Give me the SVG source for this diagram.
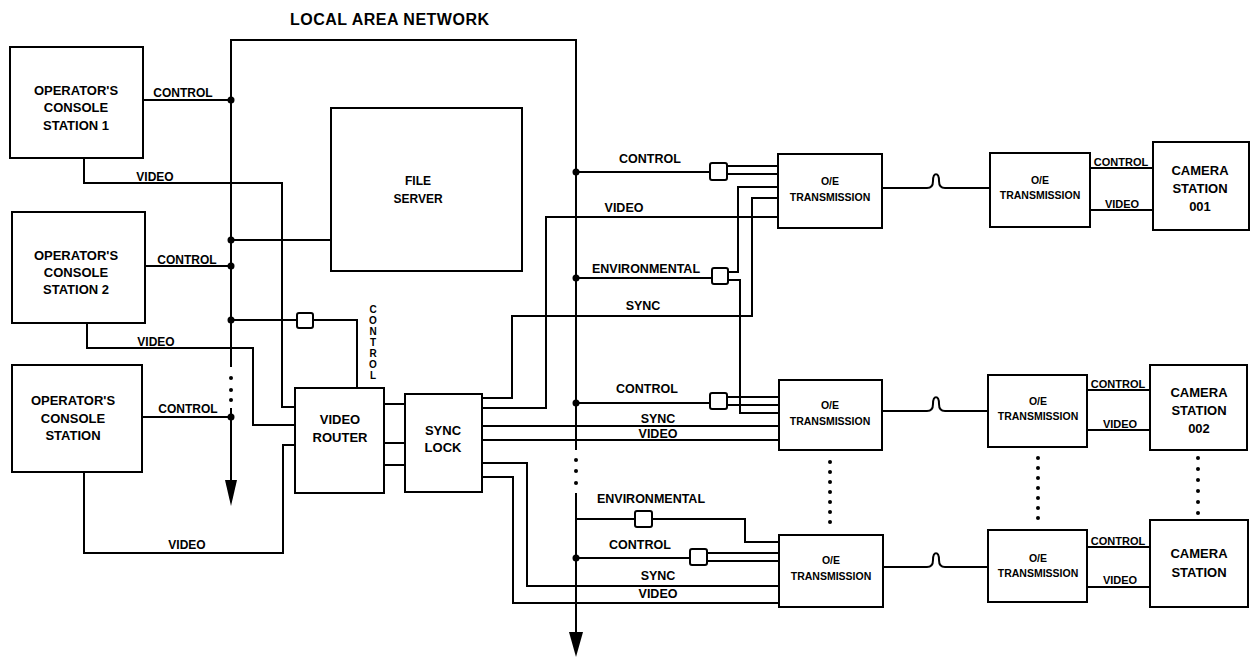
<svg xmlns="http://www.w3.org/2000/svg" width="1252" height="657" viewBox="0 0 1252 657">
<style>
.w{fill:none;stroke:#000;stroke-width:2;stroke-linejoin:miter}
.b{fill:#fff;stroke:#000;stroke-width:2}
.s{fill:#fff;stroke:#000;stroke-width:2}
.d{fill:#000}
text{font-family:"Liberation Sans",Arial,sans-serif;font-weight:bold;fill:#000}
.n{font-size:13px;text-anchor:middle}
.n12{font-size:12px;text-anchor:middle}
.oe{font-size:10.5px;text-anchor:middle}
.l{font-size:12px;text-anchor:middle}
.r{font-size:12.5px;text-anchor:middle}
.c{font-size:11px;text-anchor:middle}
.v{font-size:10px;text-anchor:middle}
.ttl{font-size:16px;letter-spacing:0.5px}
</style>
<rect width="1252" height="657" fill="#fff"/>
<text class="ttl" x="290" y="25">LOCAL AREA NETWORK</text>

<g id="connectors">
  <!-- LAN buses -->
  <path class="w" d="M231,367 V40 H576 V450"/>
  <path class="w" d="M231,408 V482"/>
  <polygon points="225,480 237,480 231,506"/>
  <path class="w" d="M576,493 V634"/>
  <polygon points="569,632 583,632 576,657"/>
  <circle class="d" cx="231" cy="378" r="2"/>
  <circle class="d" cx="231" cy="390" r="2"/>
  <circle class="d" cx="231" cy="400" r="2"/>
  <circle class="d" cx="576" cy="460" r="2"/>
  <circle class="d" cx="576" cy="471" r="2"/>
  <circle class="d" cx="576" cy="483" r="2"/>
  <!-- left side -->
  <path class="w" d="M143,100 H231"/>
  <path class="w" d="M84,158 V183 H282 V407 H295"/>
  <path class="w" d="M145,266 H231"/>
  <path class="w" d="M231,240 H331"/>
  <path class="w" d="M87,323 V348 H253 V425 H295"/>
  <path class="w" d="M231,320 H297"/>
  <rect class="s" x="297" y="313" width="16" height="15" rx="2"/>
  <path class="w" d="M313,320 H357 V388"/>
  <path class="w" d="M142,417 H231"/>
  <path class="w" d="M84,472 V553 H283 V445 H295"/>
  <circle class="d" cx="231" cy="100" r="3.5"/>
  <circle class="d" cx="231" cy="240" r="3.5"/>
  <circle class="d" cx="231" cy="266" r="3.5"/>
  <circle class="d" cx="231" cy="320" r="3.5"/>
  <circle class="d" cx="231" cy="417" r="3.5"/>
  <!-- router to sync lock -->
  <path class="w" d="M384,404 H405 M384,443 H405 M384,465 H405"/>
  <!-- sync lock outputs -->
  <path class="w" d="M482,398 H512 V316 H752 V198 H778"/>
  <path class="w" d="M482,408 H546 V217 H778"/>
  <path class="w" d="M482,426 H779"/>
  <path class="w" d="M482,440 H779"/>
  <path class="w" d="M482,463 H527 V586 H779"/>
  <path class="w" d="M482,477 H513 V603 H779"/>
  <!-- right bus taps -->
  <path class="w" d="M576,172 H710"/>
  <rect class="s" x="710" y="163" width="17" height="17" rx="2"/>
  <path class="w" d="M727,166 H778 M727,174 H778"/>
  <path class="w" d="M576,278 H712"/>
  <rect class="s" x="712" y="268" width="16" height="16" rx="2"/>
  <path class="w" d="M728,272 H738 V187 H778"/>
  <path class="w" d="M728,280 H740 V413 H779"/>
  <path class="w" d="M576,403 H710"/>
  <rect class="s" x="710" y="393" width="17" height="16" rx="2"/>
  <path class="w" d="M727,397 H779 M727,405 H779"/>
  <path class="w" d="M576,519 H635"/>
  <rect class="s" x="635" y="511" width="17" height="16" rx="2"/>
  <path class="w" d="M652,519 H745 V542 H779"/>
  <path class="w" d="M576,558 H690"/>
  <rect class="s" x="690" y="549" width="17" height="16" rx="2"/>
  <path class="w" d="M707,553 H779 M707,561 H779"/>
  <circle class="d" cx="576" cy="172" r="3.5"/>
  <circle class="d" cx="576" cy="278" r="3.5"/>
  <circle class="d" cx="576" cy="403" r="3.5"/>
  <circle class="d" cx="576" cy="558" r="3.5"/>
  <!-- fibre links -->
  <path class="w" d="M882,188 H927 C931,188 933,186 933,181 C933,172 939,172 939,181 C939,186 941,188 945,188 H990"/>
  <path class="w" d="M882,411 H927 C931,411 933,409 933,404 C933,395 939,395 939,404 C939,409 941,411 945,411 H988"/>
  <path class="w" d="M883,567 H927 C931,567 933,565 933,560 C933,551 939,551 939,560 C939,565 941,567 945,567 H988"/>
  <!-- camera links -->
  <path class="w" d="M1090,168 H1153 M1090,210 H1153"/>
  <path class="w" d="M1087,390 H1150 M1087,430 H1150"/>
  <path class="w" d="M1087,547 H1150 M1087,587 H1150"/>
  <!-- ellipsis dots -->
  <g class="d">
    <circle cx="830" cy="462" r="2"/><circle cx="830" cy="472" r="2"/><circle cx="830" cy="482" r="2"/><circle cx="830" cy="492" r="2"/><circle cx="830" cy="502" r="2"/><circle cx="830" cy="512" r="2"/><circle cx="830" cy="522" r="2"/>
    <circle cx="1038" cy="458" r="2"/><circle cx="1038" cy="468" r="2"/><circle cx="1038" cy="478" r="2"/><circle cx="1038" cy="488" r="2"/><circle cx="1038" cy="498" r="2"/><circle cx="1038" cy="508" r="2"/><circle cx="1038" cy="518" r="2"/>
    <circle cx="1198" cy="458" r="2"/><circle cx="1198" cy="469" r="2"/><circle cx="1198" cy="480" r="2"/><circle cx="1198" cy="491" r="2"/><circle cx="1198" cy="502" r="2"/><circle cx="1198" cy="513" r="2"/>
  </g>
  <!-- connector labels -->
  <text class="l" x="183" y="97">CONTROL</text>
  <text class="l" x="155" y="181">VIDEO</text>
  <text class="l" x="187" y="264">CONTROL</text>
  <text class="l" x="156" y="346">VIDEO</text>
  <text class="l" x="188" y="413">CONTROL</text>
  <text class="l" x="187" y="549">VIDEO</text>
  <text class="v"><tspan x="373" y="313">C</tspan><tspan x="373" y="324">O</tspan><tspan x="373" y="335">N</tspan><tspan x="373" y="346">T</tspan><tspan x="373" y="357">R</tspan><tspan x="373" y="368">O</tspan><tspan x="373" y="379">L</tspan></text>
  <text class="r" x="650" y="163">CONTROL</text>
  <text class="r" x="624" y="212">VIDEO</text>
  <text class="r" x="646" y="273">ENVIRONMENTAL</text>
  <text class="r" x="643" y="310">SYNC</text>
  <text class="r" x="647" y="393">CONTROL</text>
  <text class="r" x="658" y="423">SYNC</text>
  <text class="r" x="658" y="438">VIDEO</text>
  <text class="r" x="651" y="503">ENVIRONMENTAL</text>
  <text class="r" x="640" y="549">CONTROL</text>
  <text class="r" x="658" y="580">SYNC</text>
  <text class="r" x="658" y="598">VIDEO</text>
  <text class="c" x="1121" y="166">CONTROL</text>
  <text class="c" x="1122" y="208">VIDEO</text>
  <text class="c" x="1118" y="388">CONTROL</text>
  <text class="c" x="1120" y="428">VIDEO</text>
  <text class="c" x="1118" y="545">CONTROL</text>
  <text class="c" x="1120" y="584">VIDEO</text>
</g>

<g id="console1"><rect class="b" x="10" y="47" width="133" height="111"/>
  <text class="n" x="76" y="95">OPERATOR'S</text><text class="n" x="76" y="112">CONSOLE</text><text class="n" x="76" y="130">STATION 1</text></g>
<g id="console2"><rect class="b" x="12" y="212" width="133" height="111"/>
  <text class="n" x="76" y="260">OPERATOR'S</text><text class="n" x="76" y="277">CONSOLE</text><text class="n" x="76" y="294">STATION 2</text></g>
<g id="console3"><rect class="b" x="12" y="365" width="130" height="107"/>
  <text class="n" x="73" y="405">OPERATOR'S</text><text class="n" x="73" y="423">CONSOLE</text><text class="n" x="73" y="440">STATION</text></g>
<g id="fileserver"><rect class="b" x="331" y="108" width="191" height="163"/>
  <text class="n12" x="418" y="185">FILE</text><text class="n12" x="418" y="203">SERVER</text></g>
<g id="videorouter"><rect class="b" x="295" y="388" width="89" height="105"/>
  <text class="n" x="340" y="424">VIDEO</text><text class="n" x="340" y="442">ROUTER</text></g>
<g id="synclock"><rect class="b" x="405" y="394" width="77" height="98"/>
  <text class="n" x="443" y="435">SYNC</text><text class="n" x="443" y="452">LOCK</text></g>
<g id="oe1"><rect class="b" x="778" y="154" width="104" height="74"/>
  <text class="oe" x="830" y="185">O/E</text><text class="oe" x="830" y="201">TRANSMISSION</text></g>
<g id="oe2"><rect class="b" x="779" y="380" width="103" height="70"/>
  <text class="oe" x="830" y="409">O/E</text><text class="oe" x="830" y="425">TRANSMISSION</text></g>
<g id="oe3"><rect class="b" x="779" y="535" width="104" height="72"/>
  <text class="oe" x="831" y="564">O/E</text><text class="oe" x="831" y="580">TRANSMISSION</text></g>
<g id="oe1b"><rect class="b" x="990" y="153" width="100" height="74"/>
  <text class="oe" x="1040" y="184">O/E</text><text class="oe" x="1040" y="199">TRANSMISSION</text></g>
<g id="oe2b"><rect class="b" x="988" y="375" width="99" height="72"/>
  <text class="oe" x="1038" y="405">O/E</text><text class="oe" x="1038" y="420">TRANSMISSION</text></g>
<g id="oe3b"><rect class="b" x="988" y="530" width="99" height="72"/>
  <text class="oe" x="1038" y="562">O/E</text><text class="oe" x="1038" y="577">TRANSMISSION</text></g>
<g id="cam1"><rect class="b" x="1153" y="142" width="96" height="88"/>
  <text class="n" x="1200" y="175">CAMERA</text><text class="n" x="1200" y="193">STATION</text><text class="n" x="1200" y="211">001</text></g>
<g id="cam2"><rect class="b" x="1150" y="365" width="97" height="85"/>
  <text class="n" x="1199" y="397">CAMERA</text><text class="n" x="1199" y="415">STATION</text><text class="n" x="1199" y="433">002</text></g>
<g id="cam3"><rect class="b" x="1150" y="520" width="98" height="87"/>
  <text class="n" x="1199" y="558">CAMERA</text><text class="n" x="1199" y="577">STATION</text></g>
</svg>
